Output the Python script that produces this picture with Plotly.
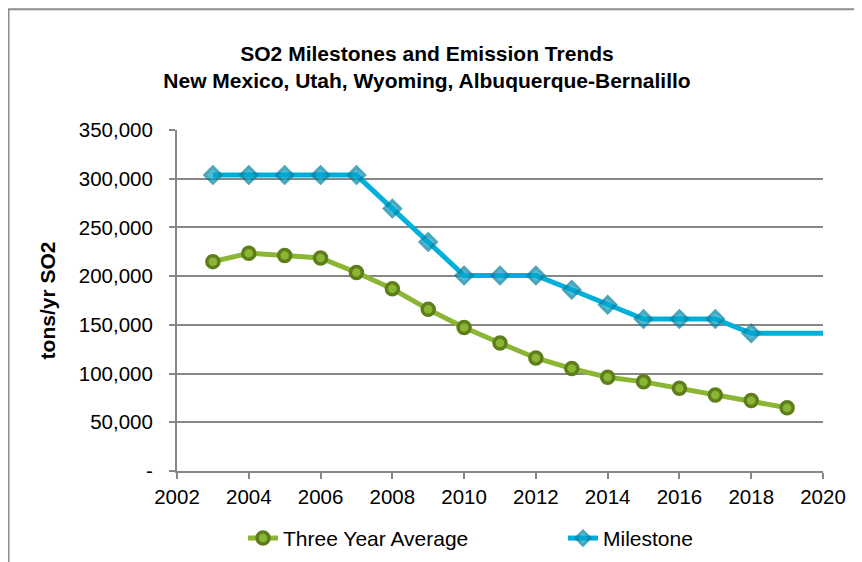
import plotly.graph_objects as go

avg_years = [2003, 2004, 2005, 2006, 2007, 2008, 2009, 2010, 2011, 2012, 2013, 2014, 2015, 2016, 2017, 2018, 2019]
avg_values = [214900, 223500, 221100, 218700, 203700, 187000, 165900, 147300, 131300, 116000, 105100, 96200, 91500, 85000, 77900, 72400, 64900]

ms_years = [2003, 2004, 2005, 2006, 2007, 2008, 2009, 2010, 2011, 2012, 2013, 2014, 2015, 2016, 2017, 2018, 2019, 2020]
ms_values = [303700, 303700, 303700, 303700, 303700, 269300, 235000, 200700, 200700, 200700, 186000, 170600, 156000, 156000, 156000, 141400, 141400, 141400]
ms_shown = [True] * 16 + [False, False]

x_ticks = [2002, 2004, 2006, 2008, 2010, 2012, 2014, 2016, 2018, 2020]
y_ticks = [0, 50000, 100000, 150000, 200000, 250000, 300000, 350000]
y_tick_labels = ["-", "50,000", "100,000", "150,000", "200,000", "250,000", "300,000", "350,000"]

FONT = "Liberation Sans, Arial, sans-serif"
GRID = "#878787"

fig = go.Figure()
fig.add_trace(go.Scatter(
    x=avg_years, y=avg_values, name="Three Year Average", mode="lines+markers",
    line=dict(color="#8AB634", width=5),
    marker=dict(symbol="circle", size=12, color="#8AB634", line=dict(color="#5E7E1B", width=3.5)),
    legend="legend",
))
fig.add_trace(go.Scatter(
    x=ms_years, y=ms_values, name="Milestone", mode="lines+markers",
    line=dict(color="#00B0DA", width=5),
    marker=dict(symbol="diamond", size=[12.5 if s else 0 for s in ms_shown],
                color="#00A4CC",
                line=dict(color="#00819F", width=[3 if s else 0 for s in ms_shown])),
    legend="legend2",
))

# page offset of 8px (body margin) is accounted for
OFF = 8
W, H = 862, 562
L, T = 177 - OFF, 130 - OFF
R = W - (823 - OFF)
B = H - (471.5 - OFF)
pw, ph = W - L - R, H - T - B

def px_x(x):
    return (x - OFF - L) / pw

def px_y(y):
    return (T + ph - (y - OFF)) / ph

fig.add_shape(type="rect", xref="paper", yref="paper",
              x0=(0.5 - L) / pw, x1=(W + 20 - L) / pw,
              y0=-(H + 20 - T - ph) / ph, y1=(T + ph - 1) / ph,
              line=dict(color="#8C8C8C", width=2), fillcolor="rgba(0,0,0,0)", layer="below")

leg_common = dict(orientation="h", xanchor="left", y=px_y(539), yanchor="middle",
                  font=dict(family=FONT, size=21, color="black"), bgcolor="rgba(0,0,0,0)")

fig.update_layout(
    width=W, height=H,
    margin=dict(l=L, r=R, t=T, b=B, autoexpand=False),
    paper_bgcolor="white", plot_bgcolor="white",
    font=dict(family=FONT, size=21, color="black"),
    title=dict(text="<b>SO2 Milestones and Emission Trends<br>New Mexico, Utah, Wyoming, Albuquerque-Bernalillo</b>",
               x=(427 - OFF) / W, xanchor="center", y=(H - 53) / H, yanchor="top",
               font=dict(family=FONT, size=21, color="black")),
    showlegend=True,
    legend=dict(x=px_x(243), **leg_common),
    legend2=dict(x=px_x(563), **leg_common),
    xaxis=dict(range=[2002, 2020], tickvals=x_ticks, ticktext=[str(v) for v in x_ticks],
               showgrid=False, showline=True, linecolor=GRID, linewidth=2,
               ticks="outside", ticklen=6, tickcolor=GRID, tickwidth=2,
               tickfont=dict(family=FONT, size=20.5, color="black"), zeroline=False,
               automargin=False),
    yaxis=dict(range=[0, 350000], tickvals=y_ticks, ticktext=y_tick_labels,
               showgrid=True, gridcolor=GRID, gridwidth=2,
               showline=True, linecolor=GRID, linewidth=2,
               ticks="outside", ticklen=6, tickcolor=GRID, tickwidth=2,
               ticklabelstandoff=12, automargin=False,
               tickfont=dict(family=FONT, size=20.5, color="black"), zeroline=False,
               title=dict(text="<b>tons/yr SO2</b>", standoff=17,
                          font=dict(family=FONT, size=21, color="black"))),
)

fig.write_html("out.html")
